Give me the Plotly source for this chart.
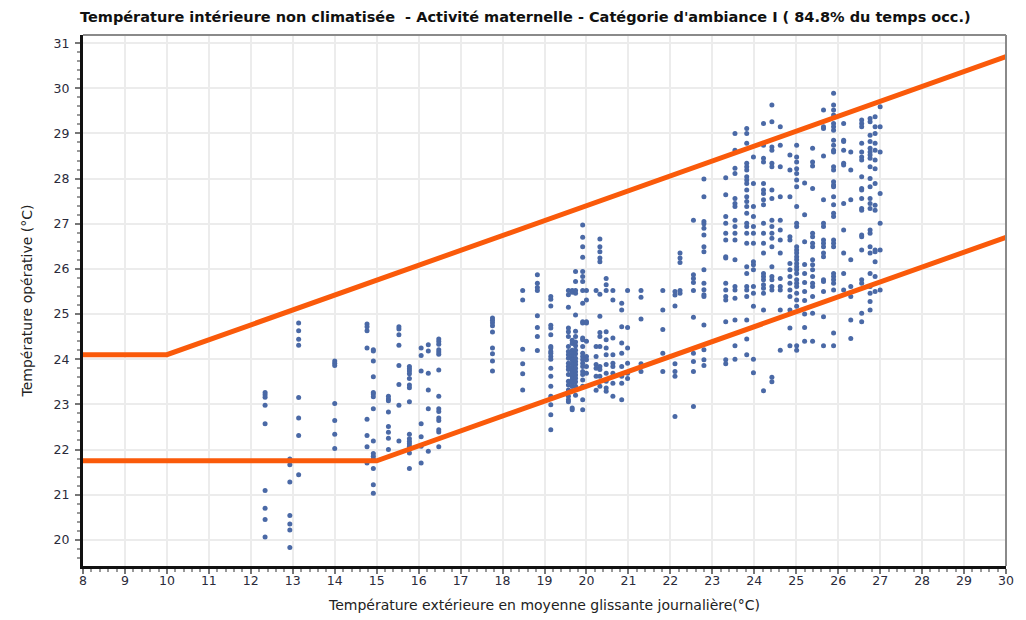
import plotly.graph_objects as go

# Moyenne glissante journalière de la température extérieure (°C), une colonne par jour
trm_jour = [
    12.34, 12.93, 13.14, 14.00, 14.77, 14.92, 15.28, 15.53, 15.78, 16.06,
    16.23, 16.48, 17.76, 18.48, 18.83, 19.15, 19.57, 19.66, 19.74, 19.91,
    20.00, 20.23, 20.32, 20.47, 20.63, 20.84, 20.98, 21.30, 21.82, 22.11,
    22.23, 22.55, 22.80, 23.32, 23.54, 23.82, 23.98, 24.22, 24.42, 24.62,
    24.85, 25.01, 25.20, 25.39, 25.65, 25.89, 26.13, 26.30, 26.56, 26.76,
    26.88, 27.00,
]

# Températures opératives horaires en occupation (°C) pour chaque jour
t_operative = [
    [23.26, 23.21, 23.16, 22.98, 22.57, 21.09, 20.70, 20.45, 20.06],
    [21.79, 21.66, 21.28, 20.54, 20.35, 20.22, 19.83],
    [24.80, 24.63, 24.44, 24.31, 23.15, 22.70, 22.31, 21.44],
    [23.96, 23.91, 23.86, 23.02, 22.64, 22.34, 22.02],
    [24.78, 24.72, 24.63, 24.25, 22.67, 22.31, 22.06, 21.70],
    [24.21, 24.18, 23.96, 23.61, 23.26, 23.23, 23.17, 22.90, 22.19, 21.91,
     21.85, 21.79, 21.58, 21.22, 21.03],
    [23.18, 23.12, 23.08, 22.83, 22.51, 22.38, 22.25, 22.00],
    [24.72, 24.67, 24.54, 24.31, 23.86, 23.44, 22.98, 22.19],
    [23.84, 23.79, 23.74, 23.68, 23.57, 23.43, 23.37, 23.06, 22.34, 22.24,
     22.18, 22.13, 22.07, 22.02, 21.92, 21.58],
    [24.25, 24.08, 23.74, 22.57, 22.28, 22.07, 21.70],
    [24.32, 24.18, 23.69, 23.32, 22.90, 21.96],
    [24.45, 24.39, 24.33, 24.21, 24.16, 24.11, 23.76, 23.18, 22.90, 22.84,
     22.70, 22.64, 22.44, 22.39, 22.06],
    [24.91, 24.86, 24.81, 24.74, 24.60, 24.25, 24.12, 23.96, 23.74],
    [25.52, 25.31, 24.22, 23.90, 23.68, 23.32],
    [25.87, 25.68, 25.59, 25.52, 24.96, 24.70, 24.50, 24.19],
    [25.39, 25.33, 25.18, 24.75, 24.69, 24.54, 24.28, 24.25, 24.17, 24.13,
     24.06, 24.00, 23.80, 23.62, 23.40, 23.18, 22.99, 22.77, 22.44],
    [25.52, 25.43, 25.15, 24.69, 24.61, 24.50, 24.28, 24.17, 24.10, 24.02,
     23.91, 23.84, 23.77, 23.66, 23.51, 23.43, 23.32, 23.18, 23.10, 23.06],
    [25.52, 25.48, 24.42, 24.35, 24.20, 24.12, 24.05, 23.98, 23.90, 23.82,
     23.75, 23.70, 23.62, 23.55, 23.48, 23.40, 23.30, 22.92, 22.88],
    [25.94, 25.72, 25.52, 25.46, 24.98, 24.62, 24.50, 24.38, 24.30, 24.20,
     24.12, 24.02, 23.95, 23.88, 23.80, 23.72, 23.65, 23.58, 23.50, 23.40,
     23.20],
    [26.97, 26.70, 26.49, 26.26, 25.94, 25.83, 25.72, 25.52, 25.24, 24.83,
     24.80, 24.47, 24.43, 24.28, 24.13, 24.06, 23.99, 23.91, 23.84, 23.73,
     23.66, 23.54, 23.40, 23.10, 22.88],
    [25.52, 25.31, 24.83, 24.80, 24.40, 24.06, 23.99, 23.84, 23.69],
    [25.52, 24.28, 24.06, 23.88, 23.80, 23.62, 23.31],
    [26.66, 26.49, 26.38, 26.24, 26.16, 25.44, 24.95, 24.59, 24.50, 24.28,
     23.84, 23.77, 23.62, 23.40],
    [25.79, 25.65, 25.52, 24.61, 24.43, 24.25, 24.10, 23.88, 23.69, 23.51,
     23.36, 23.29],
    [25.52, 25.31, 24.47, 24.10, 23.91, 23.84, 23.69, 23.47, 23.18],
    [25.24, 25.09, 24.72, 24.36, 24.13, 23.84, 23.62, 23.47, 23.10],
    [25.52, 24.70, 24.25, 23.91, 23.69, 23.57],
    [25.52, 25.37, 24.89, 23.90, 23.73],
    [25.52, 25.09, 24.66, 24.13, 23.73],
    [25.50, 25.42, 25.18, 23.90, 23.73, 23.62, 22.73],
    [26.35, 26.24, 26.14, 25.52, 25.46],
    [27.08, 25.87, 25.79, 25.70, 25.52, 24.93, 24.13, 23.95, 23.73, 22.95],
    [27.99, 27.60, 27.05, 27.00, 26.90, 26.75, 26.49, 26.38, 25.98, 25.68,
     25.54, 25.43, 25.39, 24.76, 24.21, 23.99, 23.86],
    [28.02, 27.64, 27.16, 27.01, 26.79, 26.64, 26.27, 26.24, 25.68, 25.53,
     25.39, 25.31, 24.83, 23.99, 23.90],
    [29.00, 28.63, 28.23, 28.11, 27.56, 27.45, 27.38, 27.08, 26.94, 26.79,
     26.64, 26.20, 25.61, 25.53, 25.35, 24.87, 24.30, 24.00],
    [29.11, 29.00, 28.78, 28.34, 28.26, 28.19, 28.04, 27.97, 27.89, 27.75,
     27.60, 27.49, 27.38, 27.23, 27.01, 26.94, 26.79, 26.57, 26.05, 25.90,
     25.61, 25.53, 25.39, 24.87, 24.45, 24.10],
    [28.48, 27.89, 27.38, 27.16, 26.94, 26.79, 26.57, 26.16, 26.09, 25.98,
     25.61, 25.46, 25.17, 24.00, 23.70],
    [29.22, 28.74, 28.45, 28.37, 27.89, 27.75, 27.67, 27.53, 27.42, 27.01,
     26.79, 26.57, 26.35, 25.90, 25.83, 25.76, 25.65, 25.57, 25.46, 25.09,
     23.30],
    [29.63, 29.26, 28.70, 28.63, 28.34, 28.26, 27.75, 27.56, 27.08, 26.94,
     26.79, 26.68, 26.49, 26.05, 25.83, 25.76, 25.61, 25.53, 23.60, 23.50],
    [29.15, 28.74, 28.26, 27.60, 27.08, 26.86, 26.64, 26.35, 25.79, 25.61,
     25.53, 25.09, 24.20],
    [28.52, 28.19, 27.60, 26.71, 26.64, 26.12, 25.98, 25.83, 25.68, 25.53,
     25.39, 25.09, 24.69, 24.30],
    [28.74, 28.48, 28.37, 28.22, 28.11, 27.97, 27.82, 27.38, 27.01, 26.94,
     26.49, 26.42, 26.35, 26.27, 26.20, 26.12, 26.05, 25.98, 25.90, 25.76,
     25.68, 25.61, 25.46, 25.31, 25.17, 24.30, 24.20],
    [27.90, 27.20, 26.60, 26.10, 25.90, 25.70, 25.50, 25.30, 25.00, 24.70,
     24.40],
    [28.67, 28.37, 28.28, 27.78, 26.79, 26.71, 26.57, 26.49, 26.20, 26.09,
     25.98, 25.83, 25.68, 25.61, 25.39, 25.02, 24.40],
    [29.52, 29.15, 29.11, 28.50, 27.53, 27.01, 26.94, 26.64, 26.57, 26.49,
     26.35, 26.27, 25.76, 25.72, 25.50, 24.94, 24.30],
    [29.89, 29.63, 29.52, 29.41, 29.22, 29.15, 29.07, 28.85, 28.74, 28.63,
     28.59, 28.26, 28.19, 27.93, 27.86, 27.82, 27.60, 27.42, 27.23, 27.16,
     26.64, 26.57, 26.49, 25.90, 25.83, 25.76, 25.68, 25.53, 24.58, 24.30],
    [29.22, 28.85, 28.82, 28.63, 28.34, 28.30, 27.45, 26.86, 26.35, 25.90,
     25.53],
    [28.59, 28.19, 27.53, 26.20, 25.61, 25.39, 24.87, 24.46],
    [29.30, 29.22, 29.15, 28.78, 28.59, 28.48, 28.41, 28.04, 27.78, 27.75,
     27.56, 27.34, 27.30, 26.75, 26.71, 26.42, 25.76, 25.68, 25.02, 24.83],
    [29.33, 29.26, 28.96, 28.82, 28.67, 28.59, 28.52, 28.45, 28.26, 28.00,
     27.82, 27.56, 27.45, 27.34, 26.86, 26.79, 26.49, 26.35, 25.90, 25.61,
     25.46, 25.28, 25.09],
    [29.37, 29.15, 29.00, 28.78, 28.63, 28.41, 28.22, 27.89, 27.41, 27.30,
     26.42, 26.38, 26.16, 25.83, 25.50],
    [29.59, 29.15, 28.59, 27.67, 27.01, 26.42, 25.53],
]

# Limites de confort de la catégorie I (bornes des segments)
limite_haute_x = [8, 10, 30]
limite_haute_y = [24.1, 24.1, 30.7]
limite_basse_x = [8, 15, 30]
limite_basse_y = [21.75, 21.75, 26.7]

titre = ("Température intérieure non climatisée  - Activité maternelle - "
         "Catégorie d'ambiance I ( 84.8% du temps occ.)")

pts_x, pts_y = [], []
for trm, temps in zip(trm_jour, t_operative):
    pts_x.extend([trm] * len(temps))
    pts_y.extend(temps)

fig = go.Figure()
fig.add_trace(go.Scatter(
    x=pts_x, y=pts_y, mode="markers",
    marker=dict(color="#4a69a6", size=5, line=dict(width=0)),
    hoverinfo="x+y", showlegend=False,
))
for lx, ly in ((limite_haute_x, limite_haute_y), (limite_basse_x, limite_basse_y)):
    fig.add_trace(go.Scatter(
        x=lx, y=ly, mode="lines",
        line=dict(color="#fa5a0a", width=5),
        showlegend=False, hoverinfo="skip",
    ))

tick_font = dict(family="DejaVu Sans", size=12.5, color="#2a2a3a")
title_font = dict(family="DejaVu Sans", size=14, color="#222222")
fig.update_layout(
    width=1026, height=620,
    margin=dict(l=83, r=20, t=35, b=54),
    paper_bgcolor="white", plot_bgcolor="white",
    title=dict(text=titre, x=0.512, xref="container", xanchor="center",
               y=0.972, yref="container", yanchor="middle",
               font=dict(family="DejaVu Sans", size=14.5, color="#111111",
                         weight="bold")),
    font=dict(family="DejaVu Sans", size=12, color="#2a2a3a"),
)
fig.update_xaxes(
    range=[8, 30], dtick=1, tick0=8, tickfont=tick_font, automargin=False,
    showgrid=True, gridcolor="#ececec", gridwidth=2,
    showline=True, linecolor="#111111", linewidth=3,
    ticks="outside", ticklen=5, tickcolor="#777777", tickwidth=2,
    ticklabelstandoff=-4,
    minor=dict(dtick=0.2, tick0=8, ticks="outside", ticklen=3,
               tickcolor="#999999", tickwidth=2, showgrid=False),
    zeroline=False,
    title=dict(text="Température extérieure en moyenne glissante journalière(°C)",
               font=title_font, standoff=14),
)
fig.update_yaxes(
    range=[19.42, 31.18], dtick=1, tick0=20, tickfont=tick_font, automargin=False,
    showgrid=True, gridcolor="#ececec", gridwidth=2,
    showline=True, linecolor="#111111", linewidth=3,
    ticks="outside", ticklen=5, tickcolor="#777777", tickwidth=2,
    ticklabelstandoff=3,
    minor=dict(dtick=0.2, tick0=20, ticks="outside", ticklen=3,
               tickcolor="#999999", tickwidth=2, showgrid=False),
    zeroline=False,
    title=dict(text="Température opérative (°C)",
               font=title_font, standoff=18),
)
# Bordure haute et droite du cadre
fig.add_shape(type="line", xref="paper", yref="paper", x0=0, x1=1, y0=1, y1=1,
              line=dict(color="#8a8a8a", width=2))
fig.add_shape(type="line", xref="paper", yref="paper", x0=1, x1=1, y0=0, y1=1,
              line=dict(color="#8a8a8a", width=2))

fig.write_html("out.html")
